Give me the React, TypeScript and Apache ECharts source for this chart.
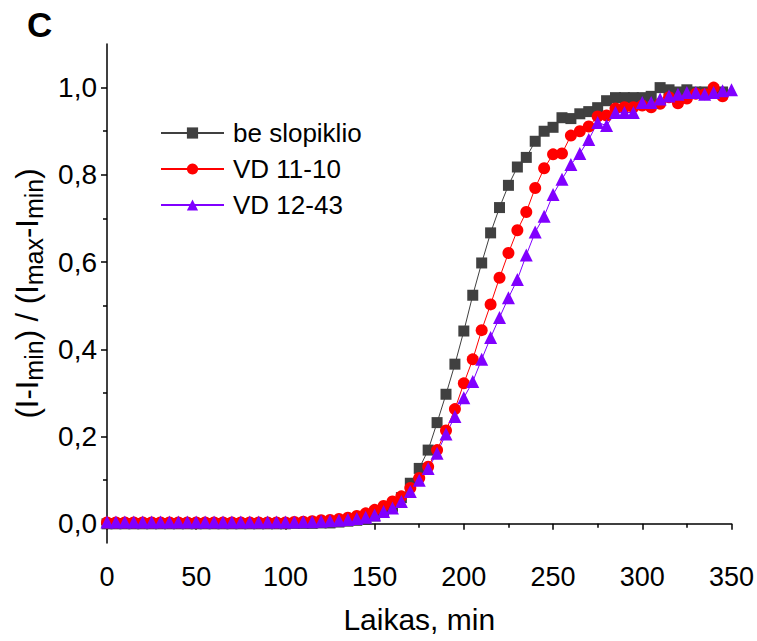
import React, { useEffect, useRef } from "react";
import * as echarts from "echarts";

const times = [0, 5, 10, 15, 20, 25, 30, 35, 40, 45, 50, 55, 60, 65, 70, 75, 80, 85, 90, 95, 100, 105, 110, 115, 120, 125, 130, 135, 140, 145, 150, 155, 160, 165, 170, 175, 180, 185, 190, 195, 200, 205, 210, 215, 220, 225, 230, 235, 240, 245, 250, 255, 260, 265, 270, 275, 280, 285, 290, 295, 300, 305, 310, 315, 320, 325, 330, 335, 340, 345, 350];

const beSlopiklio = [0, 0, 0, 0, 0, 0, 0, 0, 0, 0, 0, 0, 0, 0, 0, 0, 0, 0, 0, 0, 0, 0.001, 0.001, 0.001, 0.002, 0.002, 0.004, 0.006, 0.008, 0.012, 0.018, 0.026, 0.04, 0.06, 0.093, 0.127, 0.169, 0.232, 0.297, 0.366, 0.442, 0.524, 0.598, 0.667, 0.725, 0.776, 0.818, 0.84, 0.877, 0.9, 0.909, 0.931, 0.929, 0.94, 0.945, 0.954, 0.97, 0.977, 0.977, 0.977, 0.977, 0.98, 1.0, 0.995, 0.99, 0.995, 0.99, 0.99, 0.99, 0.99];

const vd1110 = [0.003, 0.003, 0.003, 0.003, 0.003, 0.003, 0.003, 0.003, 0.003, 0.003, 0.003, 0.003, 0.003, 0.003, 0.003, 0.003, 0.003, 0.003, 0.003, 0.003, 0.003, 0.004, 0.005, 0.006, 0.008, 0.009, 0.011, 0.014, 0.018, 0.024, 0.032, 0.041, 0.051, 0.063, 0.082, 0.105, 0.131, 0.169, 0.214, 0.263, 0.322, 0.377, 0.444, 0.503, 0.564, 0.621, 0.673, 0.715, 0.77, 0.815, 0.847, 0.849, 0.89, 0.9, 0.911, 0.934, 0.936, 0.952, 0.955, 0.955, 0.959, 0.955, 0.963, 0.978, 0.964, 0.975, 0.986, 0.985, 1.0, 0.98];

const vd1243 = [0.004, 0.004, 0.004, 0.004, 0.004, 0.004, 0.004, 0.004, 0.004, 0.004, 0.004, 0.004, 0.004, 0.004, 0.004, 0.004, 0.004, 0.004, 0.004, 0.004, 0.004, 0.004, 0.005, 0.005, 0.006, 0.007, 0.008, 0.01, 0.012, 0.015, 0.02, 0.028, 0.036, 0.051, 0.074, 0.1, 0.127, 0.162, 0.206, 0.246, 0.289, 0.326, 0.377, 0.427, 0.473, 0.518, 0.56, 0.616, 0.669, 0.705, 0.755, 0.79, 0.824, 0.849, 0.881, 0.92, 0.913, 0.943, 0.943, 0.943, 0.966, 0.966, 0.974, 0.981, 0.985, 0.989, 0.989, 0.985, 0.989, 0.993, 0.995];

const yLabelValues = [0, 0.2, 0.4, 0.6, 0.8, 1.0];
const yMinorValues = [0.1, 0.3, 0.5, 0.7, 0.9];

const pairs = (vals: number[]) => vals.map((v, i) => [times[i], v]);

const FONT = "Liberation Sans, Arial, sans-serif";

export default function App() {
  const ref = useRef<HTMLDivElement>(null);
  useEffect(() => {
    if (!ref.current) return;
    const chart = echarts.init(ref.current, null, { renderer: "svg" });
    const yMin = -0.044;
    const yMax = 1.1;
    chart.setOption({
      animation: false,
      backgroundColor: "#ffffff",
      textStyle: { fontFamily: FONT },
      graphic: [
        {
          type: "text",
          left: 27,
          top: 7,
          style: { text: "C", fontSize: 35, fontWeight: "bold", fontFamily: FONT, fill: "#000" },
        },
      ],
      grid: { left: 107, right: 22, top: 44, bottom: 98, containLabel: false },
      legend: {
        orient: "vertical",
        left: 155,
        top: 115,
        itemWidth: 63,
        itemHeight: 14,
        itemGap: 10,
        textStyle: { fontSize: 26, color: "#000", fontFamily: FONT, padding: [0, 0, 0, 4] },
        data: ["be slopiklio", "VD 11-10", "VD 12-43"],
      },
      xAxis: {
        type: "value",
        min: 0,
        max: 350,
        interval: 50,
        name: "Laikas, min",
        nameLocation: "middle",
        nameGap: 61,
        nameTextStyle: { fontSize: 30, color: "#000", fontFamily: FONT },
        axisLine: { show: true, lineStyle: { color: "#000", width: 1.5 } },
        axisTick: { show: true, length: 6, lineStyle: { color: "#000", width: 1.5 } },
        minorTick: { show: true, splitNumber: 2, length: 4, lineStyle: { color: "#000", width: 1.5 } },
        axisLabel: { fontSize: 27, color: "#000", margin: 20, fontFamily: FONT },
        splitLine: { show: false },
      },
      yAxis: [
        {
          type: "value",
          min: yMin,
          max: yMax,
          position: "left",
          offset: 0,
          name: "(I-I{sub|min}) / (I{sub|max}-I{sub|min})",
          nameLocation: "middle",
          nameGap: 61,
          nameRotate: 90,
          nameTextStyle: {
            fontSize: 31,
            color: "#000",
            fontFamily: FONT,
            rich: {
              sub: { fontSize: 25, color: "#000", fontFamily: FONT, verticalAlign: "bottom", padding: [12, 0, 0, 0] },
            },
          },
          axisLine: { show: true, lineStyle: { color: "#000", width: 1.5 } },
          axisTick: { show: true, length: 6, customValues: yLabelValues, lineStyle: { color: "#000", width: 1.5 } },
          axisLabel: {
            fontSize: 28,
            color: "#000",
            margin: 10,
            fontFamily: FONT,
            customValues: yLabelValues,
            formatter: (v: number) => v.toFixed(1).replace(".", ","),
          },
          splitLine: { show: false },
        },
        {
          type: "value",
          min: yMin,
          max: yMax,
          position: "left",
          offset: 0,
          axisLine: { show: false },
          axisTick: { show: true, length: 4, customValues: yMinorValues, lineStyle: { color: "#000", width: 1.5 } },
          axisLabel: { show: false, customValues: yMinorValues },
          splitLine: { show: false },
        },
      ],
      series: [
        {
          name: "be slopiklio",
          type: "line",
          data: pairs(beSlopiklio),
          symbol: "rect",
          symbolSize: 11,
          itemStyle: { color: "#404040" },
          lineStyle: { color: "#404040", width: 1 },
        },
        {
          name: "VD 11-10",
          type: "line",
          data: pairs(vd1110),
          symbol: "circle",
          symbolSize: 12,
          itemStyle: { color: "#ff0000" },
          lineStyle: { color: "#ff0000", width: 1 },
        },
        {
          name: "VD 12-43",
          type: "line",
          data: pairs(vd1243),
          symbol: "triangle",
          symbolSize: 13,
          itemStyle: { color: "#8000ff" },
          lineStyle: { color: "#8000ff", width: 1 },
        },
      ],
    });
    return () => chart.dispose();
  }, []);
  return <div ref={ref} style={{ width: 757, height: 641, position: "absolute", left: 0, top: 0 }} />;
}
